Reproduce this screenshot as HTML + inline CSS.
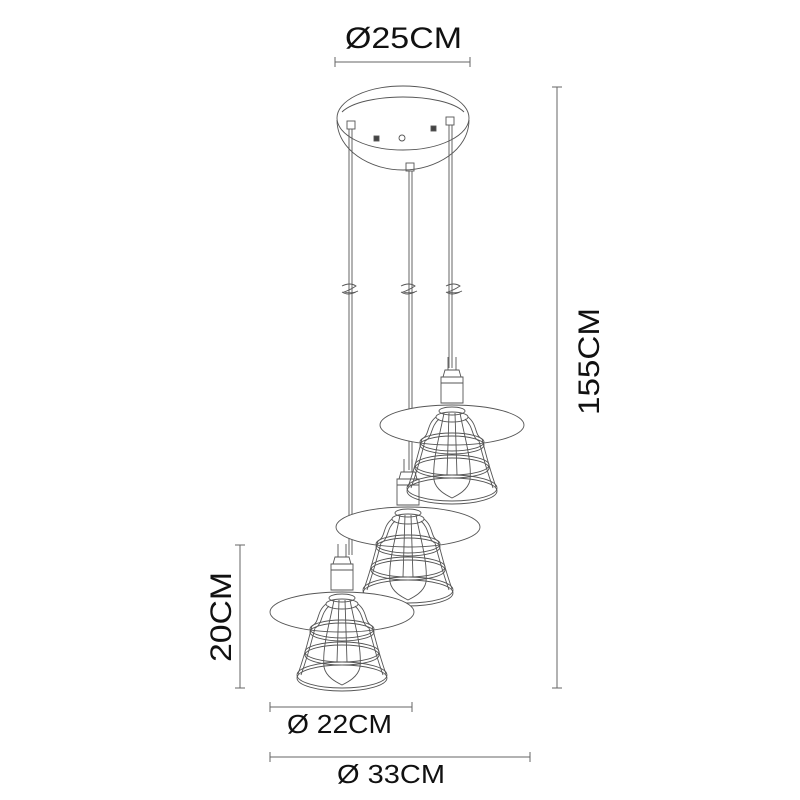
<!DOCTYPE html>
<html><head><meta charset="utf-8"><style>
html,body{margin:0;padding:0;background:#fff;}
svg{display:block}
text{font-family:"Liberation Sans",sans-serif;fill:#111}
</style></head><body>
<svg width="800" height="800" viewBox="0 0 800 800" xmlns="http://www.w3.org/2000/svg">
<defs>
<g id="lamp" fill="none" stroke="#555" stroke-width="0.9">
  <path d="M-4,-68 L-4,-55 M4,-68 L4,-55"/>
  <path d="M-7,-55 L7,-55 L9,-48 L-9,-48 Z"/>
  <path d="M-11,-48 L11,-48 L11,-22 L-11,-22 Z"/>
  <path d="M-11,-42 L11,-42"/>
  <ellipse cx="0" cy="0" rx="72" ry="20" fill="#fff"/>
  <ellipse cx="0" cy="-14" rx="13" ry="4"/>
  <ellipse cx="0" cy="-8" rx="16" ry="5"/>
  <path d="M-16,-8 C-26,0 -22,10 -30,14 C-34,30 -38,45 -44,62 M16,-8 C26,0 22,10 30,14 C34,30 38,45 44,62"/>
  <path d="M-13,-6 C-22,2 -19,12 -27,16 C-31,32 -35,46 -41,63 M13,-6 C22,2 19,12 27,16 C31,32 35,46 41,63"/>
  <ellipse cx="0" cy="17" rx="32" ry="9"/>
  <ellipse cx="0" cy="20" rx="32" ry="9"/>
  <ellipse cx="0" cy="40" rx="37" ry="10"/>
  <ellipse cx="0" cy="43" rx="37" ry="10"/>
  <ellipse cx="0" cy="63" rx="45" ry="13"/>
  <ellipse cx="0" cy="66" rx="45" ry="13"/>
  <path d="M-8,-12 C-12,10 -20,35 -18,55 C-16,65 -6,70 0,73 C6,70 16,65 18,55 C20,35 12,10 8,-12"/>
  <path d="M-3,-12 L-5,50 M3,-12 L5,50"/>
</g>
</defs>
<!-- canopy -->
<g fill="none" stroke="#555" stroke-width="0.9">
  <path d="M337,120 C337,150 370,170 403,170 C436,170 469,150 469,120" fill="#fff"/>
  <ellipse cx="403" cy="118" rx="66" ry="32" fill="#fff"/>
  <path d="M342,112 C352,102 378,97 403,97 C428,97 454,102 464,112"/>
  <circle cx="402" cy="138" r="3"/>
  <rect x="374" y="136" width="5" height="5" fill="#444"/>
  <rect x="431" y="126" width="5" height="5" fill="#444"/>
  <rect x="347" y="121" width="8" height="8"/>
  <rect x="446" y="117" width="8" height="8"/>
  <rect x="406" y="163" width="8" height="8"/>
  <path d="M349,129 L349,555 M352,129 L352,555"/>
  <path d="M409,171 L409,470 M412,171 L412,470"/>
  <path d="M449,125 L449,368 M452,125 L452,368"/>
  <path d="M342,286 q8,-4 14,0 q-6,4 -12,6 q8,2 14,-1 M342,292 q6,4 14,0"/>
  <path d="M401,286 q8,-4 14,0 q-6,4 -12,6 q8,2 14,-1 M401,292 q6,4 14,0"/>
  <path d="M446,286 q8,-4 14,0 q-6,4 -12,6 q8,2 14,-1 M446,292 q6,4 14,0"/>
</g>
<use href="#lamp" transform="translate(452,425)"/>
<use href="#lamp" transform="translate(408,527)"/>
<use href="#lamp" transform="translate(342,612)"/>
<g stroke="#666" stroke-width="1" fill="none">
  <path d="M335,62 L470,62 M335,57 L335,67 M470,57 L470,67"/>
  <path d="M557,87 L557,688 M552,87 L562,87 M552,688 L562,688"/>
  <path d="M240,545 L240,688 M235,545 L245,545 M235,688 L245,688"/>
  <path d="M270,707 L412,707 M270,702 L270,712 M412,702 L412,712"/>
  <path d="M270,757 L530,757 M270,752 L270,762 M530,752 L530,762"/>
</g>
<text x="345" y="48" font-size="30" textLength="117" lengthAdjust="spacingAndGlyphs">Ø25CM</text>
<text transform="translate(599,415) rotate(-90)" font-size="30" textLength="107" lengthAdjust="spacingAndGlyphs">155CM</text>
<text transform="translate(231,662) rotate(-90)" font-size="30" textLength="90" lengthAdjust="spacingAndGlyphs">20CM</text>
<text x="287" y="733" font-size="26" textLength="105" lengthAdjust="spacingAndGlyphs">Ø 22CM</text>
<text x="337" y="783" font-size="26" textLength="108" lengthAdjust="spacingAndGlyphs">Ø 33CM</text>
</svg>
</body></html>
